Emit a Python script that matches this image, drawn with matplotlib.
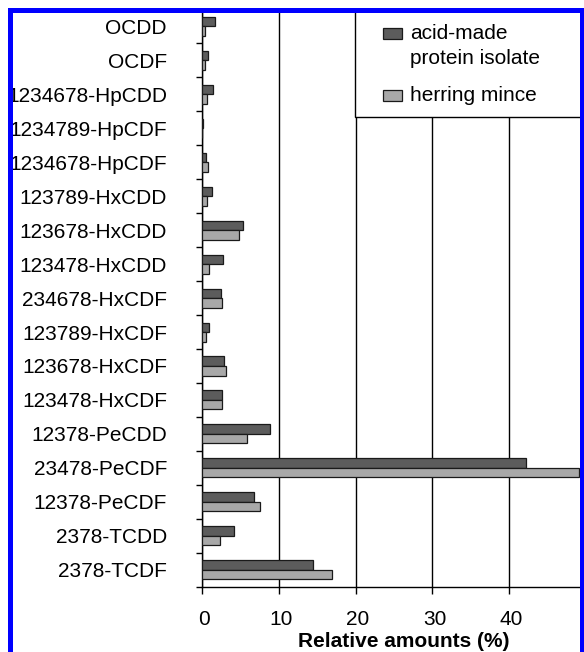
from matplotlib import pyplot as plt
from matplotlib.patches import Rectangle
from matplotlib.transforms import ScaledTranslation
import numpy as np

plt.rcParams['font.family'] = ['Liberation Sans', 'DejaVu Sans']

# Congeners, top to bottom as in the figure
congeners = ['OCDD', 'OCDF', '1234678-HpCDD', '1234789-HpCDF', '1234678-HpCDF',
             '123789-HxCDD', '123678-HxCDD', '123478-HxCDD', '234678-HxCDF',
             '123789-HxCDF', '123678-HxCDF', '123478-HxCDF', '12378-PeCDD',
             '23478-PeCDF', '12378-PeCDF', '2378-TCDD', '2378-TCDF']

# Relative amounts (%)
protein_isolate = [1.7, 0.8, 1.5, 0.2, 0.5, 1.3, 5.4, 2.8, 2.5, 1.0, 2.9, 2.6,
                   8.9, 42.2, 6.8, 4.2, 14.5]
herring_mince = [0.45, 0.45, 0.65, 0.1, 0.8, 0.65, 4.8, 1.0, 2.7, 0.5, 3.1, 2.6,
                 5.9, 49.0, 7.6, 2.4, 16.9]

series_labels = [['acid-made', 'protein isolate'], ['herring mince']]

dark = '#5c5c5c'
light = '#a8a8a8'
fs = 15

fig = plt.figure(figsize=(5.84, 6.52), dpi=100)
ax = fig.add_axes([0.3454, 0.1002, 0.6507, 0.8852])

y = np.arange(len(congeners))
h = 0.28
ax.barh(y - h / 2, protein_isolate, height=h, color=dark,
        edgecolor='#1a1a1a', linewidth=0.9, zorder=3)
ax.barh(y + h / 2, herring_mince, height=h, color=light,
        edgecolor='#1a1a1a', linewidth=0.9, zorder=3)

ax.set_ylim(len(congeners) - 0.5, -0.5)
ax.set_xlim(0, 49.4)

# y labels centred on categories, ticks on the boundaries
ax.set_yticks(y)
ax.set_yticklabels(congeners, fontsize=fs)
ax.set_yticks(np.arange(-0.5, len(congeners), 1), minor=True)
ax.tick_params(axis='y', which='major', length=0, pad=25)
ax.tick_params(axis='y', which='minor', length=4, width=1, direction='out')

ax.set_xticks([0, 10, 20, 30, 40])
ax.tick_params(axis='x', length=5, width=1, direction='out', pad=12, labelsize=fs)
for lab in ax.get_xticklabels():
    lab.set_transform(lab.get_transform() + ScaledTranslation(0.02, 0, fig.dpi_scale_trans))

ax.xaxis.grid(True, color='black', linewidth=1)
ax.set_axisbelow(True)
for s in ax.spines.values():
    s.set_color('black')
    s.set_linewidth(1)

ax.set_xlabel('Relative amounts (%)', fontsize=fs, fontweight='bold')
ax.xaxis.set_label_coords((404 - 201.7) / 380.0, -(632 - 586.7) / 577.2)


# legend drawn by hand: the swatch sits on the first line of its label
def to_ax(px, py):
    return (px - 201.7) / 380.0, (586.7 - py) / 577.2


ax.add_patch(Rectangle(to_ax(355, 117.3), (581.7 - 355) / 380.0, (117.3 - 9.5) / 577.2,
                       transform=ax.transAxes, facecolor='white',
                       edgecolor='black', linewidth=1, zorder=4))
baselines = [[39.3, 64.3], [100.5]]
for col, lines, base in zip([dark, light], series_labels, baselines):
    ax.add_patch(Rectangle(to_ax(382.7, base[0]), 19 / 380.0, 11 / 577.2,
                           transform=ax.transAxes, facecolor=col,
                           edgecolor='#1a1a1a', linewidth=0.9, zorder=5))
    for txt, b in zip(lines, base):
        ax.text(*to_ax(410, b), txt, transform=ax.transAxes, fontsize=fs,
                ha='left', va='baseline', zorder=5)

# blue frame around the picture
fig.add_artist(Rectangle((0, 0), 7 / 584, 1, transform=fig.transFigure,
                         facecolor='white', edgecolor='none', zorder=9))
fig.add_artist(Rectangle((0, 1 - 7 / 652), 1, 7 / 652, transform=fig.transFigure,
                         facecolor='white', edgecolor='none', zorder=9))
fig.add_artist(Rectangle((9.5 / 584, -0.05), 572 / 584, 1.05 - 9.5 / 652,
                         transform=fig.transFigure, facecolor='none',
                         edgecolor='#0000ff', linewidth=3.6, zorder=10))

plt.savefig('out.png', dpi=100)
